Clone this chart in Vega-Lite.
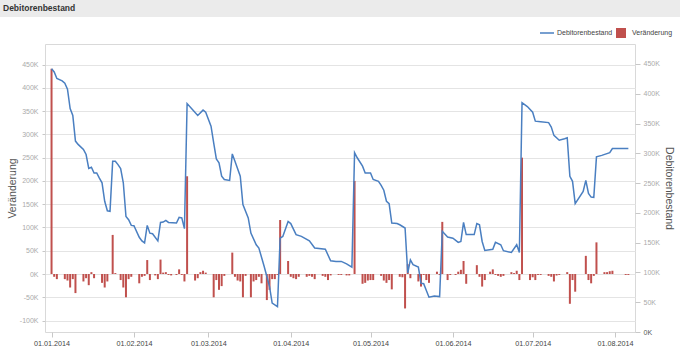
{
  "$schema": "https://vega.github.io/schema/vega-lite/v6.json",
  "padding": 0,
  "background": "white",
  "bounds": "flush",
  "center": true,
  "spacing": 27,
  "datasets": {
    "bars": [
      {"date": "2014-01-01", "veraenderung": 441},
      {"date": "2014-01-02", "veraenderung": -6},
      {"date": "2014-01-03", "veraenderung": -11},
      {"date": "2014-01-06", "veraenderung": -11},
      {"date": "2014-01-07", "veraenderung": -14},
      {"date": "2014-01-08", "veraenderung": -29},
      {"date": "2014-01-09", "veraenderung": -11},
      {"date": "2014-01-10", "veraenderung": -41},
      {"date": "2014-01-13", "veraenderung": -16},
      {"date": "2014-01-14", "veraenderung": -9},
      {"date": "2014-01-15", "veraenderung": -24},
      {"date": "2014-01-16", "veraenderung": 4},
      {"date": "2014-01-17", "veraenderung": -9},
      {"date": "2014-01-20", "veraenderung": -19},
      {"date": "2014-01-21", "veraenderung": -29},
      {"date": "2014-01-22", "veraenderung": -16},
      {"date": "2014-01-24", "veraenderung": 84},
      {"date": "2014-01-25", "veraenderung": 2},
      {"date": "2014-01-27", "veraenderung": -13},
      {"date": "2014-01-28", "veraenderung": -29},
      {"date": "2014-01-29", "veraenderung": -50},
      {"date": "2014-01-30", "veraenderung": -11},
      {"date": "2014-01-31", "veraenderung": -6},
      {"date": "2014-02-03", "veraenderung": -20},
      {"date": "2014-02-04", "veraenderung": -6},
      {"date": "2014-02-05", "veraenderung": -4},
      {"date": "2014-02-06", "veraenderung": 30},
      {"date": "2014-02-07", "veraenderung": -13},
      {"date": "2014-02-09", "veraenderung": -3},
      {"date": "2014-02-10", "veraenderung": -11},
      {"date": "2014-02-11", "veraenderung": 31},
      {"date": "2014-02-12", "veraenderung": 3},
      {"date": "2014-02-13", "veraenderung": 4},
      {"date": "2014-02-14", "veraenderung": -2},
      {"date": "2014-02-15", "veraenderung": -3},
      {"date": "2014-02-17", "veraenderung": -2},
      {"date": "2014-02-18", "veraenderung": 10},
      {"date": "2014-02-19", "veraenderung": -2},
      {"date": "2014-02-20", "veraenderung": -16},
      {"date": "2014-02-21", "veraenderung": 210},
      {"date": "2014-02-24", "veraenderung": -14},
      {"date": "2014-02-25", "veraenderung": -9},
      {"date": "2014-02-26", "veraenderung": 4},
      {"date": "2014-02-27", "veraenderung": 7},
      {"date": "2014-02-28", "veraenderung": 3},
      {"date": "2014-03-03", "veraenderung": -50},
      {"date": "2014-03-04", "veraenderung": -13},
      {"date": "2014-03-05", "veraenderung": -34},
      {"date": "2014-03-06", "veraenderung": -26},
      {"date": "2014-03-07", "veraenderung": -4},
      {"date": "2014-03-10", "veraenderung": 46},
      {"date": "2014-03-11", "veraenderung": -6},
      {"date": "2014-03-12", "veraenderung": -14},
      {"date": "2014-03-13", "veraenderung": -16},
      {"date": "2014-03-14", "veraenderung": -50},
      {"date": "2014-03-15", "veraenderung": -4},
      {"date": "2014-03-17", "veraenderung": -50},
      {"date": "2014-03-18", "veraenderung": -16},
      {"date": "2014-03-19", "veraenderung": -13},
      {"date": "2014-03-20", "veraenderung": -6},
      {"date": "2014-03-21", "veraenderung": -20},
      {"date": "2014-03-23", "veraenderung": -56},
      {"date": "2014-03-24", "veraenderung": -34},
      {"date": "2014-03-25", "veraenderung": -11},
      {"date": "2014-03-26", "veraenderung": -11},
      {"date": "2014-03-27", "veraenderung": -2},
      {"date": "2014-03-28", "veraenderung": 116},
      {"date": "2014-03-31", "veraenderung": 28},
      {"date": "2014-04-01", "veraenderung": -6},
      {"date": "2014-04-02", "veraenderung": -9},
      {"date": "2014-04-03", "veraenderung": -11},
      {"date": "2014-04-04", "veraenderung": -6},
      {"date": "2014-04-07", "veraenderung": -6},
      {"date": "2014-04-08", "veraenderung": -4},
      {"date": "2014-04-09", "veraenderung": -6},
      {"date": "2014-04-10", "veraenderung": -11},
      {"date": "2014-04-13", "veraenderung": -4},
      {"date": "2014-04-14", "veraenderung": -6},
      {"date": "2014-04-15", "veraenderung": -13},
      {"date": "2014-04-16", "veraenderung": -3},
      {"date": "2014-04-19", "veraenderung": -2},
      {"date": "2014-04-20", "veraenderung": -2},
      {"date": "2014-04-22", "veraenderung": -3},
      {"date": "2014-04-23", "veraenderung": -3},
      {"date": "2014-04-25", "veraenderung": 200},
      {"date": "2014-04-28", "veraenderung": -21},
      {"date": "2014-04-29", "veraenderung": -19},
      {"date": "2014-04-30", "veraenderung": -14},
      {"date": "2014-05-01", "veraenderung": -13},
      {"date": "2014-05-02", "veraenderung": -13},
      {"date": "2014-05-05", "veraenderung": -4},
      {"date": "2014-05-06", "veraenderung": -14},
      {"date": "2014-05-07", "veraenderung": -19},
      {"date": "2014-05-08", "veraenderung": -13},
      {"date": "2014-05-09", "veraenderung": -33},
      {"date": "2014-05-12", "veraenderung": -6},
      {"date": "2014-05-13", "veraenderung": -7},
      {"date": "2014-05-14", "veraenderung": -74},
      {"date": "2014-05-15", "veraenderung": 21},
      {"date": "2014-05-16", "veraenderung": -9},
      {"date": "2014-05-19", "veraenderung": -16},
      {"date": "2014-05-20", "veraenderung": -27},
      {"date": "2014-05-21", "veraenderung": -2},
      {"date": "2014-05-22", "veraenderung": -13},
      {"date": "2014-05-23", "veraenderung": -19},
      {"date": "2014-05-26", "veraenderung": 5},
      {"date": "2014-05-27", "veraenderung": -2},
      {"date": "2014-05-28", "veraenderung": 112},
      {"date": "2014-05-30", "veraenderung": -13},
      {"date": "2014-05-31", "veraenderung": -2},
      {"date": "2014-06-02", "veraenderung": -2},
      {"date": "2014-06-03", "veraenderung": 5},
      {"date": "2014-06-04", "veraenderung": 9},
      {"date": "2014-06-05", "veraenderung": 28},
      {"date": "2014-06-06", "veraenderung": -21},
      {"date": "2014-06-10", "veraenderung": 19},
      {"date": "2014-06-11", "veraenderung": -6},
      {"date": "2014-06-12", "veraenderung": -27},
      {"date": "2014-06-13", "veraenderung": -13},
      {"date": "2014-06-15", "veraenderung": 5},
      {"date": "2014-06-16", "veraenderung": 10},
      {"date": "2014-06-17", "veraenderung": -2},
      {"date": "2014-06-18", "veraenderung": -4},
      {"date": "2014-06-19", "veraenderung": -6},
      {"date": "2014-06-20", "veraenderung": -4},
      {"date": "2014-06-23", "veraenderung": 4},
      {"date": "2014-06-24", "veraenderung": 2},
      {"date": "2014-06-25", "veraenderung": 7},
      {"date": "2014-06-26", "veraenderung": -13},
      {"date": "2014-06-27", "veraenderung": 250},
      {"date": "2014-06-30", "veraenderung": -13},
      {"date": "2014-07-01", "veraenderung": -7},
      {"date": "2014-07-02", "veraenderung": -13},
      {"date": "2014-07-03", "veraenderung": -2},
      {"date": "2014-07-04", "veraenderung": -2},
      {"date": "2014-07-07", "veraenderung": -4},
      {"date": "2014-07-08", "veraenderung": -6},
      {"date": "2014-07-09", "veraenderung": -16},
      {"date": "2014-07-10", "veraenderung": -3},
      {"date": "2014-07-11", "veraenderung": -2},
      {"date": "2014-07-14", "veraenderung": 4},
      {"date": "2014-07-15", "veraenderung": -64},
      {"date": "2014-07-16", "veraenderung": -13},
      {"date": "2014-07-17", "veraenderung": -38},
      {"date": "2014-07-21", "veraenderung": 39},
      {"date": "2014-07-22", "veraenderung": -13},
      {"date": "2014-07-23", "veraenderung": -20},
      {"date": "2014-07-24", "veraenderung": -4},
      {"date": "2014-07-25", "veraenderung": 68},
      {"date": "2014-07-28", "veraenderung": 4},
      {"date": "2014-07-29", "veraenderung": 4},
      {"date": "2014-07-30", "veraenderung": 6},
      {"date": "2014-07-31", "veraenderung": 7},
      {"date": "2014-08-05", "veraenderung": -2},
      {"date": "2014-08-06", "veraenderung": -2}
    ],
    "line": [
      {"date": "2014-01-01", "bestand": 442},
      {"date": "2014-01-02", "bestand": 436.5},
      {"date": "2014-01-03", "bestand": 425.5},
      {"date": "2014-01-05", "bestand": 421.5},
      {"date": "2014-01-06", "bestand": 417.5},
      {"date": "2014-01-07", "bestand": 407.5},
      {"date": "2014-01-08", "bestand": 375},
      {"date": "2014-01-09", "bestand": 363.5},
      {"date": "2014-01-10", "bestand": 320.5},
      {"date": "2014-01-11", "bestand": 315},
      {"date": "2014-01-13", "bestand": 306.5},
      {"date": "2014-01-14", "bestand": 298},
      {"date": "2014-01-15", "bestand": 274.5},
      {"date": "2014-01-16", "bestand": 276.5},
      {"date": "2014-01-17", "bestand": 267},
      {"date": "2014-01-18", "bestand": 267},
      {"date": "2014-01-19", "bestand": 258.5},
      {"date": "2014-01-20", "bestand": 250.5},
      {"date": "2014-01-21", "bestand": 219.5},
      {"date": "2014-01-22", "bestand": 203.5},
      {"date": "2014-01-23", "bestand": 202.5},
      {"date": "2014-01-24", "bestand": 286.5},
      {"date": "2014-01-25", "bestand": 286.5},
      {"date": "2014-01-26", "bestand": 281},
      {"date": "2014-01-27", "bestand": 274.5},
      {"date": "2014-01-28", "bestand": 250.5},
      {"date": "2014-01-29", "bestand": 194},
      {"date": "2014-01-30", "bestand": 188.5},
      {"date": "2014-01-31", "bestand": 179},
      {"date": "2014-02-01", "bestand": 178.5},
      {"date": "2014-02-03", "bestand": 159},
      {"date": "2014-02-04", "bestand": 153},
      {"date": "2014-02-05", "bestand": 149.5},
      {"date": "2014-02-06", "bestand": 179},
      {"date": "2014-02-07", "bestand": 166},
      {"date": "2014-02-08", "bestand": 165},
      {"date": "2014-02-10", "bestand": 153},
      {"date": "2014-02-11", "bestand": 184},
      {"date": "2014-02-12", "bestand": 184.5},
      {"date": "2014-02-13", "bestand": 187.5},
      {"date": "2014-02-14", "bestand": 184},
      {"date": "2014-02-17", "bestand": 183},
      {"date": "2014-02-18", "bestand": 192.5},
      {"date": "2014-02-19", "bestand": 191.5},
      {"date": "2014-02-20", "bestand": 173.5},
      {"date": "2014-02-21", "bestand": 383.5},
      {"date": "2014-02-23", "bestand": 373.5},
      {"date": "2014-02-25", "bestand": 363.5},
      {"date": "2014-02-27", "bestand": 372.5},
      {"date": "2014-02-28", "bestand": 369},
      {"date": "2014-03-02", "bestand": 345.5},
      {"date": "2014-03-03", "bestand": 317.5},
      {"date": "2014-03-04", "bestand": 290.5},
      {"date": "2014-03-05", "bestand": 284},
      {"date": "2014-03-06", "bestand": 261.5},
      {"date": "2014-03-07", "bestand": 256},
      {"date": "2014-03-09", "bestand": 254.5},
      {"date": "2014-03-10", "bestand": 299},
      {"date": "2014-03-11", "bestand": 286.5},
      {"date": "2014-03-13", "bestand": 261.5},
      {"date": "2014-03-14", "bestand": 214},
      {"date": "2014-03-16", "bestand": 191.5},
      {"date": "2014-03-17", "bestand": 166},
      {"date": "2014-03-19", "bestand": 146.5},
      {"date": "2014-03-20", "bestand": 141},
      {"date": "2014-03-22", "bestand": 110},
      {"date": "2014-03-24", "bestand": 76.5},
      {"date": "2014-03-25", "bestand": 48.5},
      {"date": "2014-03-27", "bestand": 42.5},
      {"date": "2014-03-28", "bestand": 157.5},
      {"date": "2014-03-29", "bestand": 160.5},
      {"date": "2014-03-31", "bestand": 185.5},
      {"date": "2014-04-01", "bestand": 182},
      {"date": "2014-04-03", "bestand": 163.5},
      {"date": "2014-04-05", "bestand": 160.5},
      {"date": "2014-04-08", "bestand": 153},
      {"date": "2014-04-10", "bestand": 141},
      {"date": "2014-04-14", "bestand": 139},
      {"date": "2014-04-16", "bestand": 119.5},
      {"date": "2014-04-18", "bestand": 118.5},
      {"date": "2014-04-20", "bestand": 118.5},
      {"date": "2014-04-22", "bestand": 114.5},
      {"date": "2014-04-24", "bestand": 109},
      {"date": "2014-04-25", "bestand": 301},
      {"date": "2014-04-26", "bestand": 292.5},
      {"date": "2014-04-28", "bestand": 278.5},
      {"date": "2014-04-29", "bestand": 267},
      {"date": "2014-05-01", "bestand": 267},
      {"date": "2014-05-02", "bestand": 256},
      {"date": "2014-05-04", "bestand": 253},
      {"date": "2014-05-05", "bestand": 246},
      {"date": "2014-05-06", "bestand": 238},
      {"date": "2014-05-07", "bestand": 219.5},
      {"date": "2014-05-08", "bestand": 215.5},
      {"date": "2014-05-09", "bestand": 183},
      {"date": "2014-05-11", "bestand": 182},
      {"date": "2014-05-12", "bestand": 180},
      {"date": "2014-05-14", "bestand": 174.5},
      {"date": "2014-05-15", "bestand": 99},
      {"date": "2014-05-16", "bestand": 121},
      {"date": "2014-05-17", "bestand": 113},
      {"date": "2014-05-19", "bestand": 109},
      {"date": "2014-05-20", "bestand": 82},
      {"date": "2014-05-21", "bestand": 81},
      {"date": "2014-05-23", "bestand": 58.5},
      {"date": "2014-05-25", "bestand": 60.5},
      {"date": "2014-05-27", "bestand": 59.5},
      {"date": "2014-05-28", "bestand": 169},
      {"date": "2014-05-30", "bestand": 159.5},
      {"date": "2014-06-01", "bestand": 157.5},
      {"date": "2014-06-03", "bestand": 150.5},
      {"date": "2014-06-04", "bestand": 152},
      {"date": "2014-06-05", "bestand": 184},
      {"date": "2014-06-06", "bestand": 163.5},
      {"date": "2014-06-09", "bestand": 163.5},
      {"date": "2014-06-10", "bestand": 182},
      {"date": "2014-06-11", "bestand": 180},
      {"date": "2014-06-12", "bestand": 152},
      {"date": "2014-06-13", "bestand": 137},
      {"date": "2014-06-16", "bestand": 139},
      {"date": "2014-06-17", "bestand": 150.5},
      {"date": "2014-06-19", "bestand": 146.5},
      {"date": "2014-06-20", "bestand": 136.5},
      {"date": "2014-06-23", "bestand": 133.5},
      {"date": "2014-06-25", "bestand": 146.5},
      {"date": "2014-06-26", "bestand": 133.5},
      {"date": "2014-06-27", "bestand": 385},
      {"date": "2014-06-29", "bestand": 378.5},
      {"date": "2014-07-01", "bestand": 369},
      {"date": "2014-07-02", "bestand": 354},
      {"date": "2014-07-04", "bestand": 353},
      {"date": "2014-07-07", "bestand": 351.5},
      {"date": "2014-07-08", "bestand": 344},
      {"date": "2014-07-09", "bestand": 330},
      {"date": "2014-07-11", "bestand": 322},
      {"date": "2014-07-13", "bestand": 324.5},
      {"date": "2014-07-14", "bestand": 326},
      {"date": "2014-07-15", "bestand": 261.5},
      {"date": "2014-07-16", "bestand": 253},
      {"date": "2014-07-17", "bestand": 215.5},
      {"date": "2014-07-20", "bestand": 236},
      {"date": "2014-07-21", "bestand": 254.5},
      {"date": "2014-07-22", "bestand": 232.5},
      {"date": "2014-07-23", "bestand": 226.5},
      {"date": "2014-07-24", "bestand": 226},
      {"date": "2014-07-25", "bestand": 294},
      {"date": "2014-07-27", "bestand": 296.5},
      {"date": "2014-07-30", "bestand": 301},
      {"date": "2014-07-31", "bestand": 308},
      {"date": "2014-08-06", "bestand": 308}
    ]
  },
  "config": {
    "font": "Liberation Sans",
    "view": {"stroke": "#d9d9d9"},
    "axis": {
      "labelFont": "Liberation Sans",
      "titleFont": "Liberation Sans",
      "labelFontSize": 7,
      "labelColor": "#555555",
      "titleColor": "#555555",
      "titleFontWeight": "normal",
      "titleFontSize": 10.5,
      "domain": false,
      "tickColor": "#c8c8c8",
      "gridColor": "#e4e4e4"
    },
    "legend": {
      "labelFont": "Liberation Sans",
      "labelFontSize": 7,
      "labelColor": "#444444",
      "padding": 0,
      "offset": 0
    }
  },
  "vconcat": [
    {
      "width": 680,
      "height": 17,
      "view": {"fill": "#ebebeb", "stroke": null},
      "title": {
        "text": "Debitorenbestand",
        "anchor": "start",
        "frame": "group",
        "offset": -12,
        "dx": 3,
        "fontSize": 8.5,
        "fontWeight": "bold",
        "color": "#333333",
        "font": "Liberation Sans"
      },
      "data": {"values": [{}]},
      "mark": {"type": "rect", "fill": "#ebebeb"},
      "encoding": {}
    },
    {
      "width": 590,
      "height": 288,
      "layer": [
        {
          "data": {"name": "bars"},
          "mark": {"type": "bar", "size": 2},
          "encoding": {
            "x": {
              "field": "date",
              "type": "temporal",
              "scale": {"type": "utc", "padding": 0, "domain": ["2013-12-29T13:00:00Z", "2014-08-08T12:00:00Z"]},
              "axis": {
                "format": "%d.%m.%Y",
                "tickCount": {"interval": "month", "step": 1},
                "grid": false,
                "tickSize": 5,
                "labelPadding": 2.5,
                "labelColor": "#444444",
                "labelFontSize": 7.2,
                "labelFlush": false,
                "labelOverlap": false,
                "title": null
              }
            },
            "y": {
              "field": "veraenderung",
              "type": "quantitative",
              "scale": {"domain": [-124.6, 494.2], "nice": false},
              "axis": {
                "orient": "left",
                "values": [-100, -50, 0, 50, 100, 150, 200, 250, 300, 350, 400, 450],
                "grid": true,
                "tickSize": 3,
                "labelPadding": 4,
                "labelExpr": "datum.value + 'K'",
                "labelColor": "#aaaaaa",
                "title": "Veränderung",
                "titlePadding": 2
              }
            },
            "fill": {
              "datum": "Veränderung",
              "type": "nominal",
              "scale": {"range": ["#c0504d"]},
              "legend": {
                "orient": "none",
                "legendX": 615,
                "legendY": 27,
                "title": null,
                "symbolType": "square",
                "symbolSize": 100,
                "labelOffset": 5
              }
            }
          }
        },
        {
          "data": {"name": "line"},
          "mark": {"type": "line", "strokeWidth": 1.5},
          "encoding": {
            "x": {"field": "date", "type": "temporal"},
            "y": {
              "field": "bestand",
              "type": "quantitative",
              "scale": {"domain": [0, 483.5], "nice": false},
              "axis": {
                "orient": "right",
                "values": [0, 50, 100, 150, 200, 250, 300, 350, 400, 450],
                "grid": false,
                "tickSize": 5,
                "labelPadding": 3,
                "labelExpr": "datum.value + 'K'",
                "labelColor": {"condition": {"test": "datum.value === 0", "value": "#555555"}, "value": "#aaaaaa"},
                "title": "Debitorenbestand",
                "titlePadding": 4
              }
            },
            "stroke": {
              "datum": "Debitorenbestand",
              "type": "nominal",
              "scale": {"range": ["#4a7fc1"]},
              "legend": {
                "orient": "none",
                "legendX": 539,
                "legendY": 25,
                "title": null,
                "symbolSize": 196,
                "symbolStrokeWidth": 1.5,
                "labelOffset": 2
              }
            }
          }
        }
      ],
      "resolve": {"scale": {"y": "independent"}}
    }
  ]
}
